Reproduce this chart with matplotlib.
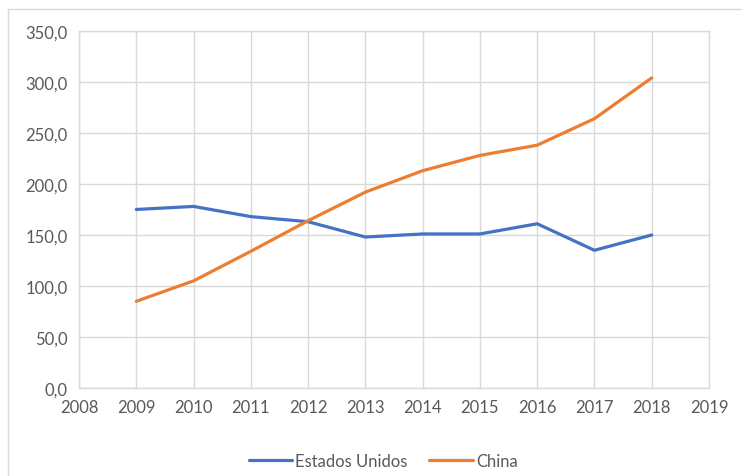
import matplotlib.pyplot as plt
from matplotlib.lines import Line2D
from matplotlib.ticker import FuncFormatter

years = [2009, 2010, 2011, 2012, 2013, 2014, 2015, 2016, 2017, 2018]
estados_unidos = [175, 178, 168, 163, 148, 151, 151, 161, 135, 150]
china = [85, 105, 134, 164, 192, 213, 228, 238, 264, 304]

plt.rcParams['font.family'] = ['Lato', 'DejaVu Sans']

fig = plt.figure(figsize=(7.42, 4.77), dpi=100)
ax = fig.add_axes([0.1065, 0.1845, 0.849, 0.7485])

ax.plot(years, estados_unidos, color='#4472C4', lw=2.3, label='Estados Unidos', solid_capstyle='round')
ax.plot(years, china, color='#ED7D31', lw=2.3, label='China', solid_capstyle='round')

ax.set_xlim(2008, 2019)
ax.set_ylim(0, 350)
ax.set_xticks(range(2008, 2020))
ax.set_yticks(range(0, 351, 50))
ax.yaxis.set_major_formatter(FuncFormatter(lambda v, p: f'{v:.1f}'.replace('.', ',')))
ax.grid(True, color='#D9D9D9', lw=1)
ax.set_axisbelow(True)
for s in ax.spines.values():
    s.set_color('#D9D9D9')
    s.set_linewidth(1)
ax.tick_params(length=0, labelsize=12, labelcolor='#595959', pad=8)

leg = ax.legend(loc='center', bbox_to_anchor=(0.483, -0.205), ncol=2, frameon=False,
                fontsize=12, handlelength=2.6, columnspacing=1.3, handletextpad=0.2)
for t in leg.get_texts():
    t.set_color('#595959')

# outer chart border (cropped at right and bottom)
fig.add_artist(Line2D([8 / 742, 1], [1 - 10 / 477, 1 - 10 / 477], color='#D9D9D9', lw=1))
fig.add_artist(Line2D([8 / 742, 8 / 742], [0, 1 - 10 / 477], color='#D9D9D9', lw=1))

fig.savefig('out.png', dpi=100)
